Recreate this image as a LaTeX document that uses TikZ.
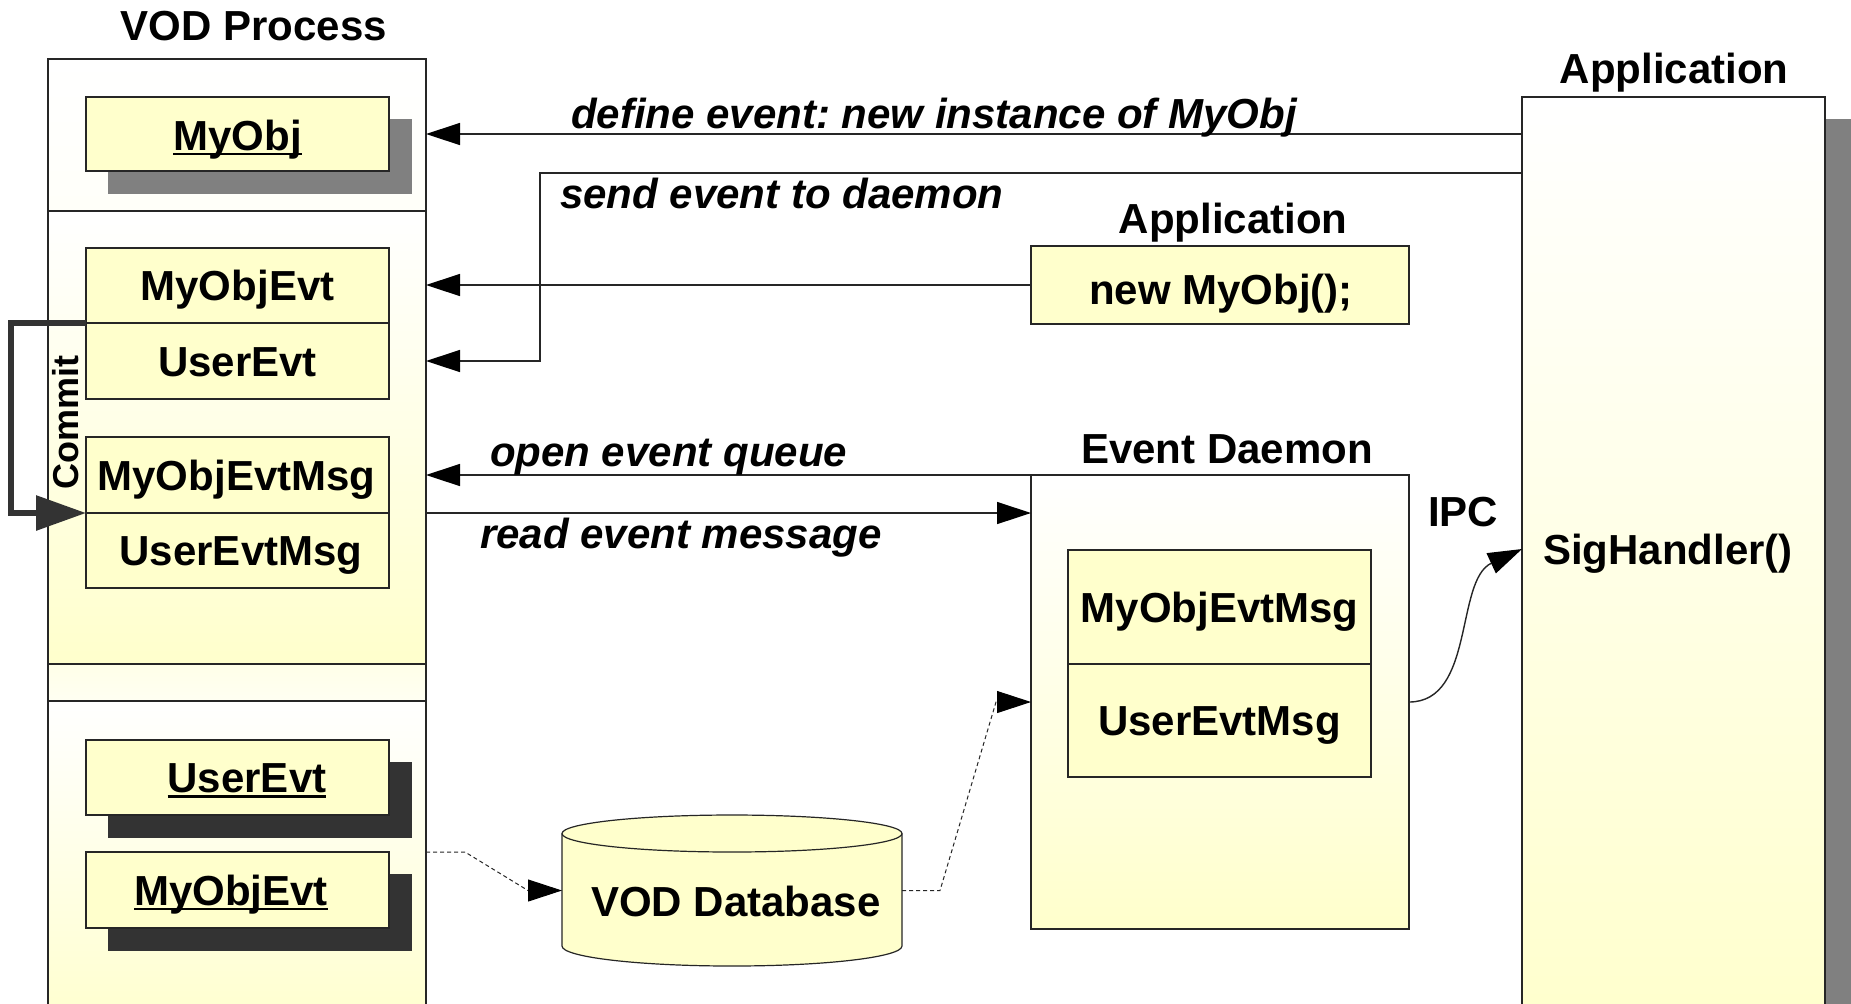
\documentclass[tikz,border=0pt]{standalone}
\usepackage{fontspec}
\setmainfont{Liberation Sans}
\usetikzlibrary{arrows.meta,calc}
\definecolor{boxyel}{HTML}{FFFFCC}
\definecolor{lineg}{HTML}{333333}
\definecolor{shadowg}{HTML}{808080}
\definecolor{shadowd}{HTML}{333333}
\newcommand\pxbox[6]{%
  \node[#6, minimum width={(#4-#2)*0.5pt}, minimum height={(#5-#3)*0.5pt}] (#1) at ({(#2+#4)/2},{(#3+#5)/2}) {};}
\frenchspacing
\begin{document}
\begin{tikzpicture}[x=0.5pt,y=-0.5pt,
  every node/.style={inner sep=0pt, outer sep=0pt},
  lbl/.style={font=\fontsize{21}{25}\selectfont\bfseries, anchor=base},
  ital/.style={font=\fontsize{21}{25}\selectfont\bfseries\itshape, anchor=base west},
  ybox/.style={rectangle, draw=black!85, line width=0.6pt, fill=boxyel},
  grad/.style={rectangle, draw=black!85, line width=0.6pt, top color=white, bottom color=boxyel},
  ul/.style={line width=1.4pt},
  arr/.style={draw=black!85, line width=0.7pt, -{Triangle[length=17pt,width=11pt,color=black]}},
  dasharr/.style={draw=black!85, line width=0.5pt, dash pattern=on 2pt off 1.5pt, -{Triangle[length=17pt,width=11pt,color=black]}}
]
\useasboundingbox (0,0) rectangle (1851,1003);
\fill[white] (0,0) rectangle (1851,1003);
\clip (0,0) rectangle (1851,1003);

% ---------- VOD Process ----------
\node[lbl] (vodt) at (254,40) {VOD Process};
\pxbox{vodA}{48}{59}{426}{211}{grad, top color=white, bottom color=boxyel!12}
\pxbox{vodB}{48}{211}{426}{664}{grad}
\pxbox{vodC}{48}{664}{426}{701}{grad, top color=boxyel!45, bottom color=boxyel!25}
\pxbox{vodD}{48}{701}{426}{1040}{grad}
\pxbox{vod}{48}{59}{426}{1040}{}

\fill[shadowg] (108,119) rectangle (412,194);
\pxbox{myobj}{86}{97}{389}{171}{ybox}
\node[lbl] (myobjt) at (237.5,150) {MyObj};
\draw[ul] ([yshift=-2pt]myobjt.base west) -- ([yshift=-2pt]myobjt.base east);

\pxbox{myobjevt}{86}{248}{389}{323}{ybox}
\node[lbl] at (237.5,300.5) {MyObjEvt};
\pxbox{userevt}{86}{323}{389}{399}{ybox}
\node[lbl] at (237.5,376) {UserEvt};
\pxbox{msgL}{86}{437}{389}{513}{ybox}
\node[lbl] at (236.5,490) {MyObjEvtMsg};
\pxbox{umsgL}{86}{513}{389}{588}{ybox}
\node[lbl] at (241,565.5) {UserEvtMsg};

\fill[shadowd] (108,762) rectangle (412,838);
\pxbox{userevt2}{86}{740}{389}{815}{ybox}
\node[lbl] (ue2t) at (247,792.5) {UserEvt};
\draw[ul] ([yshift=-2pt]ue2t.base west) -- ([yshift=-2pt]ue2t.base east);
\fill[shadowd] (108,874) rectangle (412,951);
\pxbox{objevt2}{86}{852}{389}{928}{ybox}
\node[lbl] (oe2t) at (231,905) {MyObjEvt};
\draw[ul] ([yshift=-2pt]oe2t.base west) -- ([yshift=-2pt]oe2t.base east);

% Commit loop
\draw[draw=lineg, line width=3pt, -{Triangle[length=25pt,width=17pt]}]
  (myobjevt.south west) -- ++(-75,0) |- (umsgL.north west);
\node[font=\fontsize{18}{20}\selectfont\bfseries, rotate=90] (commit) at (66,422) {Commit};

% ---------- Application (right) ----------
\fill[shadowg] (1825,119) rectangle (1851,1040);
\pxbox{app}{1522}{97}{1825}{1040}{grad}
\node[lbl] (appt) at (1674,83) {Application};
\node[lbl, anchor=base west] (sig) at (1543,564) {SigHandler()};

% ---------- Application (middle) ----------
\node[lbl] (app2t) at (1233,233) {Application};
\pxbox{newobj}{1031}{246}{1409}{324}{ybox}
\node[lbl] at (1221,304) {new MyObj();};

% ---------- Event Daemon ----------
\node[lbl] (daemt) at (1227,463) {Event Daemon};
\pxbox{daemon}{1031}{475}{1409}{929}{grad}
\pxbox{dmsg1}{1068}{550}{1371}{664}{ybox}
\node[lbl] at (1219.5,622) {MyObjEvtMsg};
\pxbox{dmsg2}{1068}{664}{1371}{777}{ybox}
\node[lbl] at (1219.5,735.5) {UserEvtMsg};
\node[lbl] (ipc) at (1463,526) {IPC};

% ---------- VOD Database ----------
\node[minimum width=170pt, minimum height=75.5pt] (db) at (732,890.5) {};
\draw[fill=boxyel, draw=black!85, line width=0.6pt]
  (562,833.5) -- (562,946) arc[start angle=180, end angle=360, x radius=85pt, y radius=10pt]
  -- (902,833.5) arc[start angle=0, end angle=180, x radius=85pt, y radius=9.25pt] -- cycle;
\draw[draw=black!85, line width=0.6pt] (562,833.5) arc[start angle=180, end angle=360, x radius=85pt, y radius=9.25pt];
\node[lbl] at (736,916) {VOD Database};

% ---------- Connectors ----------
\draw[arr] (myobj -| app.west) -- (myobj -| vod.east);
\coordinate (sendc) at (540,173);
\draw[arr] (sendc -| app.west) -- (sendc) |- (userevt -| vod.east);
\draw[arr] (newobj.west) -- (newobj.west -| vod.east);
\draw[arr] (daemon.north east) -- (daemon.north east -| vod.east);
\draw[arr] (msgL.south -| vod.east) -- (msgL.south -| daemon.west);
\coordinate (ipcend) at (1522,549);
\draw[arr] (daemon.east) .. controls (1475,702) and (1455,580) .. (ipcend);
\draw[dasharr] (objevt2.north -| vod.east) -- ++(39,0) -- (528,890.5) -- (db.west);
\draw[dasharr] (db.east) -- ++(38,0) -- (996,702) -- (daemon.west);

% ---------- Labels ----------
\node[ital] (l1) at (571,128) {define event: new instance of MyObj};
\node[ital] (l2) at (560,208) {send event to daemon};
\node[ital] (l3) at (490,466) {open event queue};
\node[ital] (l4) at (480,548) {read event message};
\end{tikzpicture}
\end{document}
